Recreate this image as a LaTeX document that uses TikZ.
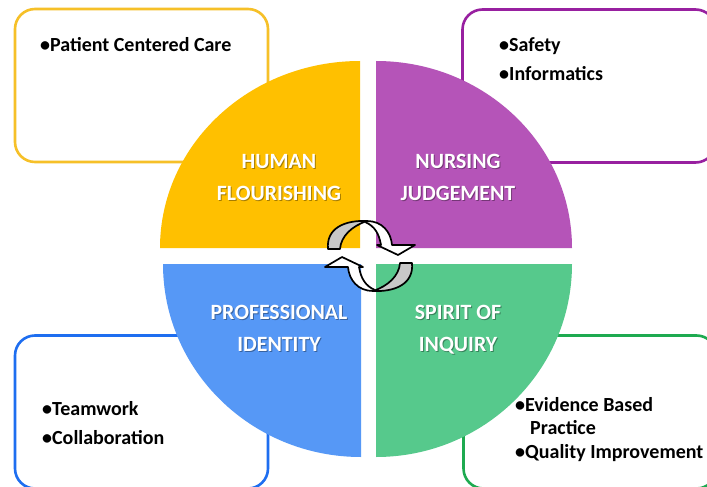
\documentclass[tikz,border=0pt]{standalone}
\usepackage{fontspec}
\setmainfont{Carlito}
\usepackage{tikz}
\usetikzlibrary{calc}

\definecolor{hfyellow}{RGB}{255,192,0}
\definecolor{njpurple}{RGB}{181,84,184}
\definecolor{piblue}{RGB}{86,152,246}
\definecolor{sigreen}{RGB}{86,201,140}
\definecolor{hfline}{RGB}{246,192,40}
\definecolor{njline}{RGB}{152,32,160}
\definecolor{piline}{RGB}{30,110,240}
\definecolor{siline}{RGB}{30,170,80}
\definecolor{arrowgray}{RGB}{200,200,200}

\begin{document}
\begin{tikzpicture}[x=1pt,y=-1pt,
  box/.style={draw=#1,line width=2.6pt,rounded corners=20pt,minimum width=253pt,minimum height=153pt},
  item/.style={anchor=base west,inner sep=0pt,font=\fontsize{20}{24}\selectfont\bfseries},
  lbl/.style={anchor=base,inner sep=0pt,text=white,font=\fontsize{21.8}{26}\selectfont\bfseries},
  lblshadow/.style={lbl,text=black,opacity=0.35},
  twist/.style={draw=black,line width=1.7pt,line join=round}]

\clip (0,0) rectangle (707,487);
\fill[white] (0,0) rectangle (707,487);

% boxes round the circle
\node[box=hfline] (hfbox) at (141.5,85.5) {};
\node[box=njline] (njbox) at (589,86) {};
\node[box=piline] (pibox) at (141.5,412) {};
\node[box=siline] (sibox) at (590,412) {};

\node[item] (care) at (40,52) {•Patient Centered Care};
\node[item] (safety) at (499,52) {•Safety};
\node[item] (informatics) at (499,81) {•Informatics};
\node[item] (teamwork) at (42,415) {•Teamwork};
\node[item] (collab) at (42,444) {•Collaboration};
\node[item] (evidence) at (515,411) {•Evidence Based};
\node[item] (practice) at (530,434) {Practice};
\node[item] (quality) at (515,458) {•Quality Improvement};

% quarters
\fill[hfyellow] (360,248) -- (160,248) arc[start angle=180,end angle=270,x radius=200,y radius=187] -- cycle;
\fill[njpurple] (376,248) -- (376,61) arc[start angle=270,end angle=360,x radius=196,y radius=187] -- cycle;
\fill[piblue] (361,264) -- (361,457) arc[start angle=90,end angle=180,x radius=198,y radius=193] -- cycle;
\fill[sigreen] (376,264) -- (572,264) arc[start angle=0,end angle=90,x radius=196,y radius=193] -- cycle;

\foreach \nm/\x/\y/\txt in {human/279/168/HUMAN, flourishing/279/200/FLOURISHING,
    nursing/458/168/NURSING, judgement/458/200/JUDGEMENT,
    professional/279/319/PROFESSIONAL, identity/279/351/IDENTITY,
    spirit/458/319/SPIRIT OF, inquiry/458/351/INQUIRY}{
  \node[lblshadow] (\nm-shadow) at (\x+1,\y+1.5) {\txt};
  \node[lbl] (\nm) at (\x,\y) {\txt};
}

% cycle arrows in the middle
\foreach \ang in {0,180}{
  \begin{scope}[rotate around={\ang:(370,256)}]
    \filldraw[twist,fill=white] (367,221) .. controls (382,221) and (391,232) .. (392,245)
        -- (415,245) -- (398,255) -- (377,245) -- (381,245)
        .. controls (379,233) and (374,226) .. (366,222.5) -- cycle;
    \filldraw[twist,fill=arrowgray] (328,249) .. controls (326,228) and (345,220) .. (367,221)
        .. controls (352,226) and (341,236) .. (340,249) -- cycle;
  \end{scope}
}

\end{tikzpicture}
\end{document}
